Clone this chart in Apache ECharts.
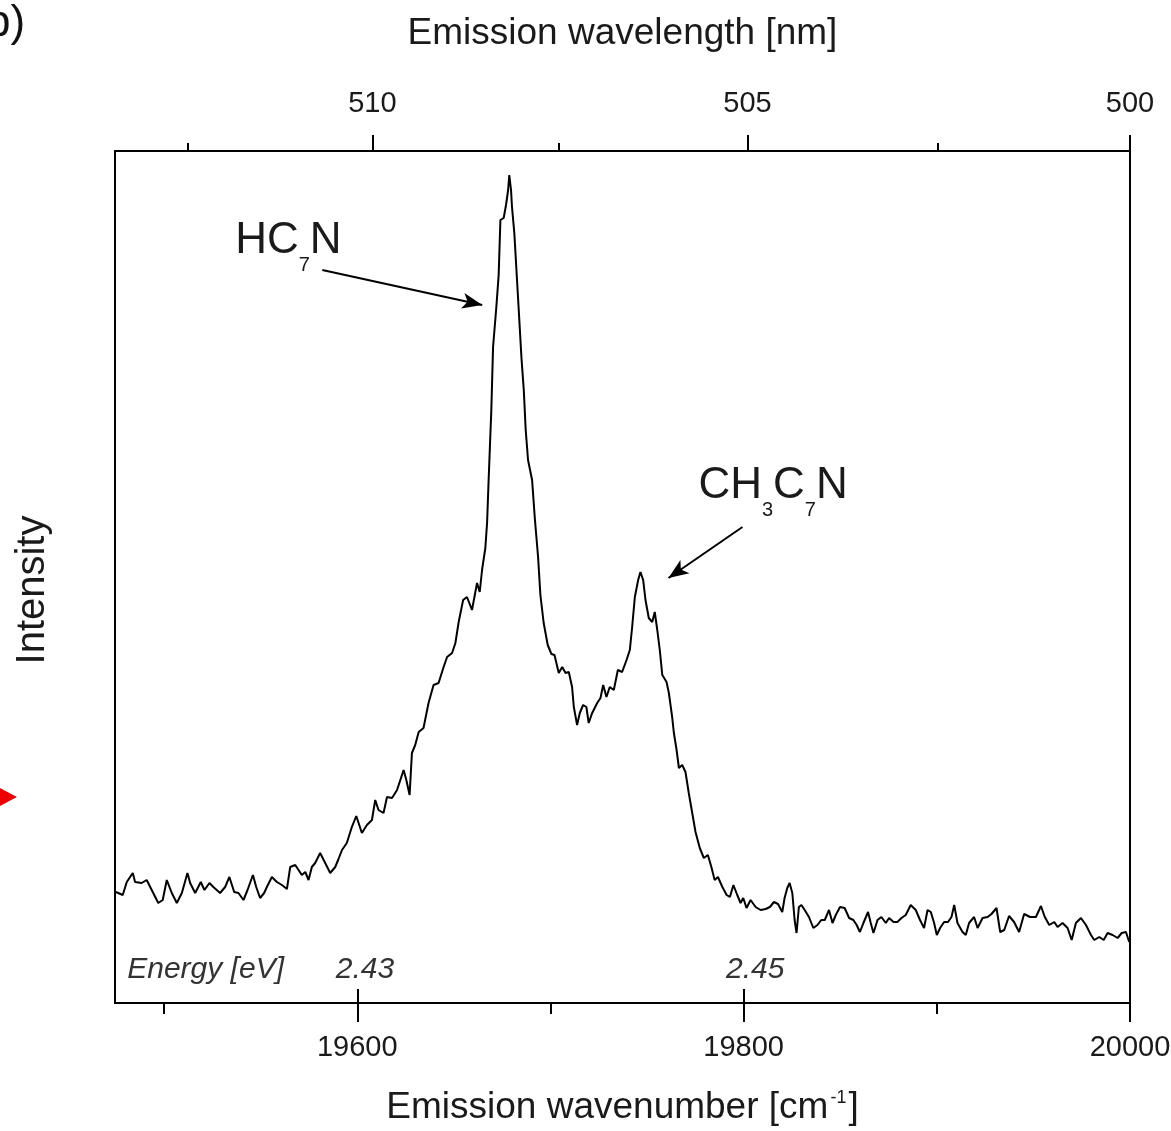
<!DOCTYPE html>
<html><head><meta charset="utf-8">
<script src="https://cdn.jsdelivr.net/npm/echarts@6/dist/echarts.min.js"></script>
<style>html,body{margin:0;padding:0;background:#fff}#c{width:1171px;height:1131px}</style>
</head><body><div id="c"></div>
<script>
// Emission wavenumber [cm^-1]
const wavenumber = [19475.1,19478.6,19480.7,19483.8,19485.0,19488.4,19491.0,19493.6,19497.0,19499.3,19501.4,19504.0,19506.6,19509.2,19512.1,19513.5,19516.1,19519.0,19520.9,19523.5,19525.5,19529.0,19531.6,19533.8,19536.3,19538.5,19541.1,19543.2,19546.0,19547.7,19549.7,19551.8,19553.2,19555.8,19558.4,19561.0,19563.6,19565.3,19567.9,19569.6,19571.3,19573.1,19574.8,19576.5,19578.2,19580.8,19583.4,19586.0,19588.6,19590.1,19592.1,19594.6,19597.2,19599.5,19602.4,19605.0,19607.6,19609.3,19611.0,19613.6,19615.4,19618.0,19620.6,19624.0,19625.4,19627.1,19628.3,19630.0,19631.8,19634.3,19636.9,19639.5,19642.1,19644.7,19646.5,19649.1,19650.8,19652.5,19654.8,19656.8,19659.4,19662.0,19663.4,19664.6,19666.3,19667.2,19668.0,19669.4,19670.3,19672.0,19673.2,19674.1,19675.8,19677.0,19678.1,19678.7,19679.6,19680.1,19681.3,19682.4,19683.8,19685.0,19686.2,19687.2,19688.4,19690.5,19691.9,19693.6,19694.8,19696.5,19698.6,19700.5,19702.1,19704.3,19706.1,19707.8,19709.5,19711.2,19712.1,19713.8,19715.2,19716.9,19718.6,19719.8,19721.6,19724.2,19725.9,19727.3,19729.0,19730.7,19732.8,19734.9,19737.1,19739.4,19741.1,19742.3,19743.7,19745.4,19746.6,19748.0,19749.2,19750.9,19752.7,19754.0,19755.3,19756.6,19757.9,19760.1,19761.3,19763.0,19763.9,19765.3,19766.5,19768.2,19769.9,19771.6,19773.4,19775.1,19777.3,19779.4,19781.5,19783.3,19785.0,19786.7,19789.0,19791.2,19792.9,19794.7,19796.7,19798.4,19799.8,19801.5,19803.6,19806.2,19808.8,19811.4,19813.6,19815.7,19817.8,19820.0,19821.2,19822.6,19823.8,19825.2,19826.4,19827.4,19828.6,19829.9,19831.6,19833.8,19836.1,19838.2,19840.2,19842.0,19844.2,19846.0,19847.7,19849.9,19852.3,19854.6,19856.8,19858.5,19860.2,19862.0,19864.4,19865.8,19867.2,19869.3,19871.3,19873.6,19875.3,19877.6,19879.6,19881.7,19883.9,19886.5,19889.1,19891.3,19893.4,19895.2,19896.9,19898.6,19900.0,19901.7,19903.8,19905.8,19907.6,19909.0,19910.7,19913.3,19915.0,19916.7,19919.3,19921.1,19923.7,19926.3,19928.3,19930.9,19932.8,19934.9,19937.4,19940.0,19942.6,19945.2,19948.3,19951.3,19953.9,19955.9,19958.2,19960.8,19962.5,19965.1,19967.7,19969.8,19972.0,19974.6,19977.2,19979.8,19981.5,19984.1,19986.4,19988.4,19991.0,19993.6,19995.7,19997.9,19999.6];
// Intensity [arb. units]
const intensity = [111,108,121,130,121,120,123,113,100,103,123,110,100,110,130,120,110,121,113,120,116,110,116,126,111,110,103,113,128,116,105,110,116,126,121,118,114,136,138,133,128,131,123,136,140,150,140,130,136,143,153,160,176,187,170,178,183,203,193,190,206,205,213,233,223,208,250,258,271,275,300,318,320,336,346,350,360,381,403,406,393,420,411,433,455,480,523,593,656,696,728,783,785,798,813,828,813,796,770,733,686,645,613,573,543,523,485,446,408,380,358,349,348,330,336,330,331,316,296,278,290,298,296,280,290,300,305,318,306,316,313,333,331,343,353,376,406,423,431,423,403,385,381,391,373,353,328,321,310,286,270,253,235,238,231,210,190,171,155,145,148,136,123,126,116,108,106,118,108,100,105,95,103,96,93,94,96,101,99,91,105,115,120,110,83,70,96,98,93,86,75,78,83,83,93,80,88,96,95,85,83,78,71,80,91,80,70,83,86,80,85,81,81,85,88,98,93,83,75,93,91,80,68,75,81,81,86,98,80,71,68,80,86,75,85,86,89,95,71,73,87,81,71,89,86,86,97,86,78,81,76,80,75,63,80,85,78,68,63,66,63,70,68,65,70,71,61];

const xMin = 19474.6, xMax = 20000;
const yMin = 0, yMax = 852;
const wnMajorTicks = [19600, 19800, 20000];
const wnMinorTicks = [19500, 19700, 19900];
const wlMajorTicks = [510, 505, 500];
const wlMinorTicks = [512.5, 507.5, 502.5];
const energyTickPos = [19600, 19800];
const energyLabelPos = [19521.5, 19604, 19806];
const energyLabels = ['Energy [eV]', '2.43', '2.45'];
const peakLabels = [
  {name: 'HC7N', x: 19536.8, y: 756, rich: '{a|HC}{s|7}{a|N}'},
  {name: 'CH3C7N', x: 19776.6, y: 511, rich: '{a|CH}{s|3}{a|C}{s|7}{a|N}'}
];
const arrows = [
  [[19581.9, 733], [19664.7, 698]],
  [[19799.4, 476], [19761.1, 425]]
];

const F = "'Liberation Sans',Arial,sans-serif";
const TXT = '#1a1a1a';
const toWn = nm => 1e7 / nm;
const data = wavenumber.map((w, i) => [w, intensity[i]]);

const chart = echarts.init(document.getElementById('c'), null, {renderer: 'canvas'});
const baseAxis = {type: 'value', min: xMin, max: xMax, splitLine: {show: false}};
chart.setOption({
  animation: false,
  backgroundColor: '#fff',
  grid: {left: 115, right: 41, top: 151, bottom: 128, containLabel: false, outerBoundsMode: 'none',
    show: true, borderColor: '#000', borderWidth: 2, backgroundColor: 'transparent'},
  xAxis: [
    Object.assign({}, baseAxis, {
      position: 'bottom',
      axisLine: {show: true, lineStyle: {color: '#000', width: 2}},
      axisTick: {show: true, customValues: wnMajorTicks, length: 19, lineStyle: {color: '#000', width: 2}},
      axisLabel: {customValues: wnMajorTicks, formatter: v => String(Math.round(v)), fontSize: 29, color: TXT, fontFamily: F, margin: 30},
      name: '{a|Emission wavenumber [cm}{sup|-1}{a|]}',
      nameLocation: 'middle', nameGap: 86,
      nameTextStyle: {rich: {a: {fontSize: 37, color: TXT, fontFamily: F}, sup: {fontSize: 18, color: TXT, fontFamily: F, verticalAlign: 'top', padding: [0, 2, 0, 2]}}}
    }),
    Object.assign({}, baseAxis, {
      position: 'bottom',
      axisLine: {show: false},
      axisTick: {show: true, customValues: wnMinorTicks, length: 11, lineStyle: {color: '#000', width: 2}},
      axisLabel: {show: false}
    }),
    Object.assign({}, baseAxis, {
      position: 'bottom',
      axisLine: {show: false},
      axisTick: {show: true, inside: true, customValues: energyTickPos, length: 14, lineStyle: {color: '#000', width: 2}},
      axisLabel: {show: true, inside: true, customValues: energyLabelPos, margin: 18,
        formatter: v => energyLabels[energyLabelPos.indexOf(v)] || '',
        fontSize: 30, fontStyle: 'italic', color: '#333', fontFamily: F}
    }),
    Object.assign({}, baseAxis, {
      position: 'top',
      axisLine: {show: true, lineStyle: {color: '#000', width: 2}},
      axisTick: {show: true, customValues: wlMajorTicks.map(toWn), length: 16, lineStyle: {color: '#000', width: 2}},
      axisLabel: {customValues: wlMajorTicks.map(toWn), formatter: v => String(Math.round(1e7 / v)), fontSize: 29, color: TXT, fontFamily: F, margin: 33},
      name: 'Emission wavelength [nm]',
      nameLocation: 'middle', nameGap: 99,
      nameTextStyle: {fontSize: 37, color: TXT, fontFamily: F}
    }),
    Object.assign({}, baseAxis, {
      position: 'top',
      axisLine: {show: false},
      axisTick: {show: true, customValues: wlMinorTicks.map(toWn), length: 8, lineStyle: {color: '#000', width: 2}},
      axisLabel: {show: false}
    })
  ],
  yAxis: [{
    type: 'value', min: yMin, max: yMax,
    axisLine: {show: true, lineStyle: {color: '#000', width: 2}},
    axisTick: {show: false}, axisLabel: {show: false}, splitLine: {show: false},
    name: 'Intensity', nameLocation: 'middle', nameGap: 62, nameRotate: 90,
    nameTextStyle: {fontSize: 40, color: TXT, fontFamily: F, padding: [0, 26, 0, 0]}
  }],
  series: [
    {
      type: 'line', xAxisIndex: 0, yAxisIndex: 0, data: data,
      symbol: 'none', lineStyle: {color: '#000', width: 2}, z: 3,
      markLine: {
        silent: true, symbol: ['none', 'arrow'], symbolSize: [12, 20],
        lineStyle: {color: '#000', width: 2, type: 'solid'},
        label: {show: false},
        data: arrows.map(a => [{coord: a[0]}, {coord: a[1]}])
      }
    },
    {
      type: 'scatter', xAxisIndex: 0, yAxisIndex: 0, symbolSize: 0, silent: true,
      itemStyle: {opacity: 1},
      data: peakLabels.map(p => ({name: p.name, value: [p.x, p.y], rich: p.rich})),
      label: {
        show: true, position: 'right', distance: 0, color: TXT, opacity: 1,
        formatter: p => p.data.rich,
        rich: {
          a: {fontSize: 44, color: TXT, fontFamily: F, verticalAlign: 'bottom', padding: [0, 0, 12, 0]},
          s: {fontSize: 20, color: TXT, fontFamily: F, verticalAlign: 'bottom'}
        }
      }
    }
  ],
  graphic: [
    {type: 'text', left: -14, top: 2, style: {text: 'b)', fontSize: 44, fill: '#111', fontFamily: F}},
    {type: 'polygon', shape: {points: [[0, 788], [17, 797], [0, 806]]}, style: {fill: '#e00'}}
  ]
});
</script></body></html>
